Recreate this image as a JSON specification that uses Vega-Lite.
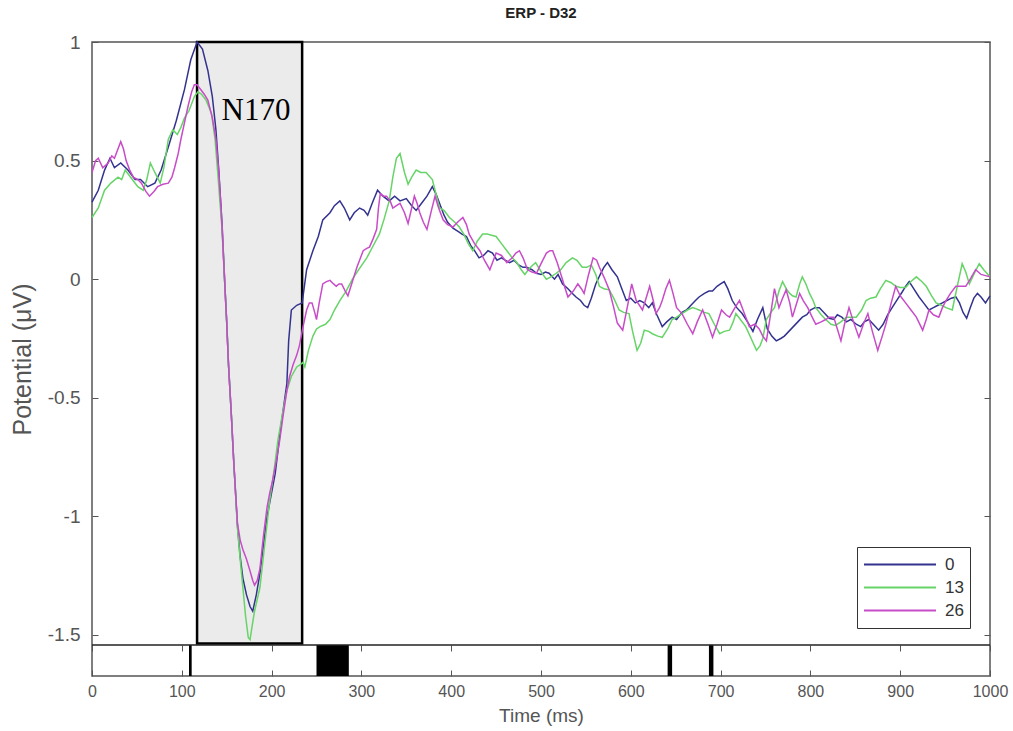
{
  "$schema": "https://vega.github.io/schema/vega-lite/v6.json",
  "background": "white",
  "autosize": {"type": "none"},
  "padding": {"left": 92, "top": 42, "right": 23, "bottom": 55},
  "width": 898,
  "height": 634,
  "title": {"text": "ERP - D32", "fontSize": 15, "fontWeight": "bold", "color": "#222", "anchor": "middle", "frame": "group", "offset": 12, "font": "Liberation Sans"},
  "config": {
    "font": "Liberation Sans",
    "view": {"stroke": "#555", "strokeWidth": 1.5},
    "axis": {"grid": false, "labelFont": "Liberation Sans", "titleFont": "Liberation Sans", "labelColor": "#555", "titleColor": "#555", "titleFontWeight": "normal", "tickColor": "#555", "domain": false, "labelFlush": false}
  },
  "datasets": {
    "box": [{"t0": 117, "t1": 234, "v0": 1.0, "v1": -1.536}],
    "lbl": [{"t": 182.6, "v": 0.671, "label": "N170"}],
    "sep": [{"t0": 0, "t1": 1000}],
    "sig": [{"start": 108, "end": 111}, {"start": 250, "end": 286}, {"start": 641, "end": 646}, {"start": 687, "end": 692}],
    "erp": [
{"s":"0","t":0,"v":0.325},{"s":"0","t":7,"v":0.375},{"s":"0","t":14,"v":0.46},{"s":"0","t":20,"v":0.51},{"s":"0","t":25,"v":0.47},{"s":"0","t":32,"v":0.49},{"s":"0","t":40,"v":0.46},{"s":"0","t":48,"v":0.42},{"s":"0","t":54,"v":0.42},{"s":"0","t":62,"v":0.39},{"s":"0","t":70,"v":0.405},{"s":"0","t":77,"v":0.46},{"s":"0","t":86,"v":0.57},{"s":"0","t":94,"v":0.67},{"s":"0","t":103,"v":0.8},{"s":"0","t":110,"v":0.925},{"s":"0","t":117,"v":1.0},{"s":"0","t":123,"v":0.97},{"s":"0","t":129,"v":0.88},{"s":"0","t":134,"v":0.77},{"s":"0","t":138,"v":0.63},{"s":"0","t":141,"v":0.47},{"s":"0","t":145,"v":0.22},{"s":"0","t":148,"v":-0.03},{"s":"0","t":150,"v":-0.18},{"s":"0","t":152,"v":-0.36},{"s":"0","t":155,"v":-0.56},{"s":"0","t":158,"v":-0.78},{"s":"0","t":162,"v":-1.04},{"s":"0","t":165,"v":-1.17},{"s":"0","t":168,"v":-1.26},{"s":"0","t":172,"v":-1.33},{"s":"0","t":176,"v":-1.38},{"s":"0","t":179,"v":-1.4},{"s":"0","t":183,"v":-1.33},{"s":"0","t":187,"v":-1.24},{"s":"0","t":195,"v":-1.0},{"s":"0","t":204,"v":-0.82},{"s":"0","t":210,"v":-0.63},{"s":"0","t":217,"v":-0.44},{"s":"0","t":219,"v":-0.26},{"s":"0","t":222,"v":-0.13},{"s":"0","t":228,"v":-0.11},{"s":"0","t":234,"v":-0.1},{"s":"0","t":239,"v":0.04},{"s":"0","t":246,"v":0.12},{"s":"0","t":252,"v":0.18},{"s":"0","t":257,"v":0.25},{"s":"0","t":265,"v":0.28},{"s":"0","t":270,"v":0.31},{"s":"0","t":276,"v":0.33},{"s":"0","t":281,"v":0.3},{"s":"0","t":287,"v":0.25},{"s":"0","t":292,"v":0.28},{"s":"0","t":298,"v":0.3},{"s":"0","t":303,"v":0.29},{"s":"0","t":307,"v":0.27},{"s":"0","t":312,"v":0.32},{"s":"0","t":318,"v":0.375},{"s":"0","t":324,"v":0.35},{"s":"0","t":331,"v":0.33},{"s":"0","t":337,"v":0.35},{"s":"0","t":343,"v":0.33},{"s":"0","t":350,"v":0.34},{"s":"0","t":356,"v":0.31},{"s":"0","t":361,"v":0.29},{"s":"0","t":367,"v":0.32},{"s":"0","t":373,"v":0.35},{"s":"0","t":379,"v":0.39},{"s":"0","t":383,"v":0.36},{"s":"0","t":387,"v":0.32},{"s":"0","t":392,"v":0.27},{"s":"0","t":396,"v":0.24},{"s":"0","t":402,"v":0.215},{"s":"0","t":408,"v":0.2},{"s":"0","t":412,"v":0.19},{"s":"0","t":417,"v":0.18},{"s":"0","t":422,"v":0.14},{"s":"0","t":426,"v":0.12},{"s":"0","t":431,"v":0.09},{"s":"0","t":436,"v":0.1},{"s":"0","t":441,"v":0.12},{"s":"0","t":446,"v":0.11},{"s":"0","t":451,"v":0.08},{"s":"0","t":456,"v":0.09},{"s":"0","t":460,"v":0.08},{"s":"0","t":465,"v":0.07},{"s":"0","t":470,"v":0.08},{"s":"0","t":475,"v":0.06},{"s":"0","t":480,"v":0.05},{"s":"0","t":484,"v":0.05},{"s":"0","t":490,"v":0.04},{"s":"0","t":495,"v":0.025},{"s":"0","t":500,"v":0.02},{"s":"0","t":505,"v":0.03},{"s":"0","t":509,"v":0.025},{"s":"0","t":515,"v":0.0},{"s":"0","t":519,"v":0.02},{"s":"0","t":524,"v":-0.02},{"s":"0","t":530,"v":-0.04},{"s":"0","t":535,"v":-0.06},{"s":"0","t":539,"v":-0.075},{"s":"0","t":544,"v":-0.09},{"s":"0","t":548,"v":-0.11},{"s":"0","t":552,"v":-0.12},{"s":"0","t":556,"v":-0.08},{"s":"0","t":561,"v":-0.02},{"s":"0","t":566,"v":0.02},{"s":"0","t":570,"v":0.05},{"s":"0","t":574,"v":0.07},{"s":"0","t":579,"v":0.04},{"s":"0","t":585,"v":0.01},{"s":"0","t":590,"v":-0.04},{"s":"0","t":595,"v":-0.09},{"s":"0","t":600,"v":-0.08},{"s":"0","t":605,"v":-0.1},{"s":"0","t":610,"v":-0.09},{"s":"0","t":615,"v":-0.1},{"s":"0","t":620,"v":-0.12},{"s":"0","t":624,"v":-0.1},{"s":"0","t":629,"v":-0.15},{"s":"0","t":635,"v":-0.2},{"s":"0","t":640,"v":-0.18},{"s":"0","t":646,"v":-0.16},{"s":"0","t":651,"v":-0.17},{"s":"0","t":657,"v":-0.14},{"s":"0","t":662,"v":-0.13},{"s":"0","t":667,"v":-0.11},{"s":"0","t":672,"v":-0.09},{"s":"0","t":676,"v":-0.075},{"s":"0","t":682,"v":-0.06},{"s":"0","t":687,"v":-0.05},{"s":"0","t":691,"v":-0.05},{"s":"0","t":696,"v":-0.03},{"s":"0","t":700,"v":-0.02},{"s":"0","t":704,"v":-0.01},{"s":"0","t":708,"v":-0.04},{"s":"0","t":713,"v":-0.09},{"s":"0","t":718,"v":-0.12},{"s":"0","t":724,"v":-0.145},{"s":"0","t":730,"v":-0.18},{"s":"0","t":736,"v":-0.22},{"s":"0","t":741,"v":-0.17},{"s":"0","t":747,"v":-0.12},{"s":"0","t":752,"v":-0.21},{"s":"0","t":757,"v":-0.24},{"s":"0","t":762,"v":-0.26},{"s":"0","t":767,"v":-0.25},{"s":"0","t":771,"v":-0.24},{"s":"0","t":776,"v":-0.22},{"s":"0","t":781,"v":-0.2},{"s":"0","t":786,"v":-0.18},{"s":"0","t":791,"v":-0.16},{"s":"0","t":796,"v":-0.15},{"s":"0","t":800,"v":-0.13},{"s":"0","t":805,"v":-0.12},{"s":"0","t":810,"v":-0.12},{"s":"0","t":815,"v":-0.14},{"s":"0","t":821,"v":-0.165},{"s":"0","t":826,"v":-0.17},{"s":"0","t":830,"v":-0.15},{"s":"0","t":835,"v":-0.16},{"s":"0","t":840,"v":-0.18},{"s":"0","t":845,"v":-0.17},{"s":"0","t":851,"v":-0.19},{"s":"0","t":856,"v":-0.2},{"s":"0","t":860,"v":-0.18},{"s":"0","t":865,"v":-0.17},{"s":"0","t":870,"v":-0.19},{"s":"0","t":876,"v":-0.215},{"s":"0","t":881,"v":-0.19},{"s":"0","t":886,"v":-0.15},{"s":"0","t":891,"v":-0.12},{"s":"0","t":896,"v":-0.09},{"s":"0","t":902,"v":-0.055},{"s":"0","t":906,"v":-0.03},{"s":"0","t":910,"v":-0.01},{"s":"0","t":915,"v":-0.04},{"s":"0","t":921,"v":-0.075},{"s":"0","t":926,"v":-0.1},{"s":"0","t":932,"v":-0.13},{"s":"0","t":937,"v":-0.12},{"s":"0","t":942,"v":-0.11},{"s":"0","t":947,"v":-0.1},{"s":"0","t":952,"v":-0.09},{"s":"0","t":957,"v":-0.08},{"s":"0","t":962,"v":-0.075},{"s":"0","t":966,"v":-0.1},{"s":"0","t":970,"v":-0.14},{"s":"0","t":974,"v":-0.165},{"s":"0","t":978,"v":-0.12},{"s":"0","t":982,"v":-0.08},{"s":"0","t":986,"v":-0.06},{"s":"0","t":990,"v":-0.075},{"s":"0","t":995,"v":-0.1},{"s":"0","t":1000,"v":-0.07},
{"s":"13","t":0,"v":0.26},{"s":"13","t":7,"v":0.3},{"s":"13","t":14,"v":0.375},{"s":"13","t":21,"v":0.405},{"s":"13","t":29,"v":0.43},{"s":"13","t":33,"v":0.42},{"s":"13","t":37,"v":0.46},{"s":"13","t":43,"v":0.43},{"s":"13","t":47,"v":0.41},{"s":"13","t":51,"v":0.39},{"s":"13","t":57,"v":0.375},{"s":"13","t":61,"v":0.42},{"s":"13","t":65,"v":0.49},{"s":"13","t":70,"v":0.45},{"s":"13","t":76,"v":0.405},{"s":"13","t":80,"v":0.47},{"s":"13","t":85,"v":0.59},{"s":"13","t":90,"v":0.63},{"s":"13","t":95,"v":0.61},{"s":"13","t":99,"v":0.64},{"s":"13","t":103,"v":0.68},{"s":"13","t":108,"v":0.71},{"s":"13","t":114,"v":0.77},{"s":"13","t":118,"v":0.79},{"s":"13","t":122,"v":0.78},{"s":"13","t":127,"v":0.755},{"s":"13","t":133,"v":0.7},{"s":"13","t":137,"v":0.59},{"s":"13","t":140,"v":0.45},{"s":"13","t":143,"v":0.3},{"s":"13","t":145,"v":0.2},{"s":"13","t":148,"v":-0.03},{"s":"13","t":150,"v":-0.18},{"s":"13","t":152,"v":-0.36},{"s":"13","t":155,"v":-0.56},{"s":"13","t":158,"v":-0.78},{"s":"13","t":162,"v":-1.05},{"s":"13","t":165,"v":-1.18},{"s":"13","t":168,"v":-1.3},{"s":"13","t":171,"v":-1.42},{"s":"13","t":174,"v":-1.51},{"s":"13","t":176,"v":-1.52},{"s":"13","t":178,"v":-1.47},{"s":"13","t":181,"v":-1.4},{"s":"13","t":184,"v":-1.35},{"s":"13","t":187,"v":-1.3},{"s":"13","t":192,"v":-1.13},{"s":"13","t":198,"v":-0.93},{"s":"13","t":203,"v":-0.8},{"s":"13","t":207,"v":-0.68},{"s":"13","t":212,"v":-0.57},{"s":"13","t":217,"v":-0.47},{"s":"13","t":222,"v":-0.41},{"s":"13","t":228,"v":-0.37},{"s":"13","t":232,"v":-0.36},{"s":"13","t":235,"v":-0.35},{"s":"13","t":237,"v":-0.37},{"s":"13","t":241,"v":-0.3},{"s":"13","t":246,"v":-0.24},{"s":"13","t":250,"v":-0.21},{"s":"13","t":254,"v":-0.2},{"s":"13","t":260,"v":-0.19},{"s":"13","t":265,"v":-0.17},{"s":"13","t":270,"v":-0.13},{"s":"13","t":276,"v":-0.09},{"s":"13","t":283,"v":-0.05},{"s":"13","t":290,"v":0.0},{"s":"13","t":297,"v":0.04},{"s":"13","t":306,"v":0.09},{"s":"13","t":313,"v":0.14},{"s":"13","t":320,"v":0.19},{"s":"13","t":325,"v":0.25},{"s":"13","t":331,"v":0.33},{"s":"13","t":335,"v":0.43},{"s":"13","t":339,"v":0.51},{"s":"13","t":343,"v":0.53},{"s":"13","t":348,"v":0.45},{"s":"13","t":352,"v":0.4},{"s":"13","t":356,"v":0.43},{"s":"13","t":361,"v":0.46},{"s":"13","t":366,"v":0.45},{"s":"13","t":372,"v":0.45},{"s":"13","t":379,"v":0.42},{"s":"13","t":383,"v":0.36},{"s":"13","t":387,"v":0.3},{"s":"13","t":392,"v":0.29},{"s":"13","t":398,"v":0.26},{"s":"13","t":404,"v":0.24},{"s":"13","t":409,"v":0.22},{"s":"13","t":414,"v":0.19},{"s":"13","t":419,"v":0.15},{"s":"13","t":424,"v":0.12},{"s":"13","t":429,"v":0.16},{"s":"13","t":435,"v":0.19},{"s":"13","t":440,"v":0.19},{"s":"13","t":445,"v":0.185},{"s":"13","t":450,"v":0.18},{"s":"13","t":456,"v":0.15},{"s":"13","t":462,"v":0.12},{"s":"13","t":468,"v":0.09},{"s":"13","t":473,"v":0.07},{"s":"13","t":478,"v":0.04},{"s":"13","t":482,"v":0.02},{"s":"13","t":487,"v":0.045},{"s":"13","t":491,"v":0.06},{"s":"13","t":494,"v":0.07},{"s":"13","t":498,"v":0.045},{"s":"13","t":502,"v":0.02},{"s":"13","t":506,"v":0.0},{"s":"13","t":511,"v":0.01},{"s":"13","t":517,"v":0.025},{"s":"13","t":522,"v":0.04},{"s":"13","t":528,"v":0.07},{"s":"13","t":535,"v":0.09},{"s":"13","t":540,"v":0.08},{"s":"13","t":546,"v":0.05},{"s":"13","t":551,"v":0.05},{"s":"13","t":556,"v":0.06},{"s":"13","t":561,"v":0.02},{"s":"13","t":565,"v":-0.03},{"s":"13","t":570,"v":-0.04},{"s":"13","t":576,"v":-0.045},{"s":"13","t":581,"v":-0.08},{"s":"13","t":587,"v":-0.13},{"s":"13","t":592,"v":-0.14},{"s":"13","t":598,"v":-0.145},{"s":"13","t":602,"v":-0.22},{"s":"13","t":607,"v":-0.3},{"s":"13","t":611,"v":-0.27},{"s":"13","t":615,"v":-0.215},{"s":"13","t":620,"v":-0.22},{"s":"13","t":624,"v":-0.23},{"s":"13","t":630,"v":-0.24},{"s":"13","t":635,"v":-0.245},{"s":"13","t":641,"v":-0.21},{"s":"13","t":646,"v":-0.17},{"s":"13","t":651,"v":-0.16},{"s":"13","t":657,"v":-0.145},{"s":"13","t":663,"v":-0.13},{"s":"13","t":669,"v":-0.12},{"s":"13","t":673,"v":-0.125},{"s":"13","t":676,"v":-0.13},{"s":"13","t":682,"v":-0.14},{"s":"13","t":687,"v":-0.145},{"s":"13","t":693,"v":-0.19},{"s":"13","t":699,"v":-0.23},{"s":"13","t":704,"v":-0.22},{"s":"13","t":710,"v":-0.215},{"s":"13","t":714,"v":-0.18},{"s":"13","t":717,"v":-0.145},{"s":"13","t":722,"v":-0.17},{"s":"13","t":728,"v":-0.2},{"s":"13","t":734,"v":-0.25},{"s":"13","t":740,"v":-0.3},{"s":"13","t":744,"v":-0.28},{"s":"13","t":747,"v":-0.25},{"s":"13","t":751,"v":-0.17},{"s":"13","t":756,"v":-0.14},{"s":"13","t":760,"v":-0.12},{"s":"13","t":765,"v":-0.05},{"s":"13","t":769,"v":-0.01},{"s":"13","t":773,"v":-0.04},{"s":"13","t":777,"v":-0.06},{"s":"13","t":780,"v":-0.07},{"s":"13","t":784,"v":-0.075},{"s":"13","t":788,"v":-0.02},{"s":"13","t":791,"v":0.01},{"s":"13","t":795,"v":-0.02},{"s":"13","t":799,"v":-0.06},{"s":"13","t":803,"v":-0.09},{"s":"13","t":806,"v":-0.12},{"s":"13","t":812,"v":-0.15},{"s":"13","t":817,"v":-0.17},{"s":"13","t":823,"v":-0.19},{"s":"13","t":828,"v":-0.195},{"s":"13","t":834,"v":-0.18},{"s":"13","t":840,"v":-0.16},{"s":"13","t":845,"v":-0.16},{"s":"13","t":851,"v":-0.16},{"s":"13","t":857,"v":-0.13},{"s":"13","t":862,"v":-0.09},{"s":"13","t":867,"v":-0.08},{"s":"13","t":873,"v":-0.075},{"s":"13","t":878,"v":-0.04},{"s":"13","t":884,"v":-0.005},{"s":"13","t":890,"v":-0.015},{"s":"13","t":895,"v":-0.03},{"s":"13","t":900,"v":-0.035},{"s":"13","t":906,"v":-0.035},{"s":"13","t":912,"v":-0.01},{"s":"13","t":918,"v":0.01},{"s":"13","t":924,"v":-0.01},{"s":"13","t":929,"v":-0.03},{"s":"13","t":935,"v":-0.07},{"s":"13","t":940,"v":-0.1},{"s":"13","t":946,"v":-0.11},{"s":"13","t":951,"v":-0.12},{"s":"13","t":958,"v":-0.13},{"s":"13","t":963,"v":-0.04},{"s":"13","t":969,"v":0.065},{"s":"13","t":973,"v":0.03},{"s":"13","t":977,"v":-0.02},{"s":"13","t":982,"v":0.02},{"s":"13","t":988,"v":0.065},{"s":"13","t":993,"v":0.04},{"s":"13","t":1000,"v":0.01},
{"s":"26","t":0,"v":0.45},{"s":"26","t":4,"v":0.5},{"s":"26","t":7,"v":0.51},{"s":"26","t":12,"v":0.47},{"s":"26","t":18,"v":0.49},{"s":"26","t":22,"v":0.52},{"s":"26","t":25,"v":0.51},{"s":"26","t":29,"v":0.55},{"s":"26","t":32,"v":0.58},{"s":"26","t":35,"v":0.55},{"s":"26","t":38,"v":0.5},{"s":"26","t":42,"v":0.46},{"s":"26","t":46,"v":0.43},{"s":"26","t":51,"v":0.42},{"s":"26","t":55,"v":0.405},{"s":"26","t":60,"v":0.37},{"s":"26","t":64,"v":0.35},{"s":"26","t":69,"v":0.37},{"s":"26","t":73,"v":0.39},{"s":"26","t":79,"v":0.4},{"s":"26","t":85,"v":0.405},{"s":"26","t":89,"v":0.43},{"s":"26","t":92,"v":0.47},{"s":"26","t":96,"v":0.53},{"s":"26","t":99,"v":0.59},{"s":"26","t":103,"v":0.66},{"s":"26","t":107,"v":0.73},{"s":"26","t":111,"v":0.79},{"s":"26","t":114,"v":0.82},{"s":"26","t":117,"v":0.82},{"s":"26","t":121,"v":0.8},{"s":"26","t":125,"v":0.78},{"s":"26","t":129,"v":0.755},{"s":"26","t":134,"v":0.68},{"s":"26","t":138,"v":0.59},{"s":"26","t":141,"v":0.46},{"s":"26","t":144,"v":0.28},{"s":"26","t":148,"v":-0.03},{"s":"26","t":150,"v":-0.18},{"s":"26","t":152,"v":-0.36},{"s":"26","t":155,"v":-0.56},{"s":"26","t":158,"v":-0.78},{"s":"26","t":162,"v":-1.03},{"s":"26","t":165,"v":-1.1},{"s":"26","t":168,"v":-1.14},{"s":"26","t":172,"v":-1.18},{"s":"26","t":176,"v":-1.23},{"s":"26","t":179,"v":-1.27},{"s":"26","t":181,"v":-1.29},{"s":"26","t":184,"v":-1.27},{"s":"26","t":187,"v":-1.22},{"s":"26","t":191,"v":-1.08},{"s":"26","t":195,"v":-0.96},{"s":"26","t":198,"v":-0.9},{"s":"26","t":201,"v":-0.85},{"s":"26","t":205,"v":-0.77},{"s":"26","t":209,"v":-0.68},{"s":"26","t":213,"v":-0.57},{"s":"26","t":217,"v":-0.47},{"s":"26","t":220,"v":-0.41},{"s":"26","t":224,"v":-0.36},{"s":"26","t":228,"v":-0.32},{"s":"26","t":231,"v":-0.28},{"s":"26","t":235,"v":-0.2},{"s":"26","t":239,"v":-0.13},{"s":"26","t":242,"v":-0.1},{"s":"26","t":245,"v":-0.1},{"s":"26","t":248,"v":-0.14},{"s":"26","t":250,"v":-0.17},{"s":"26","t":253,"v":-0.1},{"s":"26","t":257,"v":-0.02},{"s":"26","t":261,"v":-0.01},{"s":"26","t":265,"v":-0.005},{"s":"26","t":269,"v":-0.02},{"s":"26","t":272,"v":-0.03},{"s":"26","t":275,"v":-0.02},{"s":"26","t":278,"v":-0.02},{"s":"26","t":282,"v":-0.05},{"s":"26","t":285,"v":-0.07},{"s":"26","t":290,"v":-0.01},{"s":"26","t":295,"v":0.05},{"s":"26","t":299,"v":0.09},{"s":"26","t":302,"v":0.12},{"s":"26","t":306,"v":0.13},{"s":"26","t":309,"v":0.135},{"s":"26","t":313,"v":0.17},{"s":"26","t":317,"v":0.21},{"s":"26","t":319,"v":0.3},{"s":"26","t":321,"v":0.36},{"s":"26","t":325,"v":0.35},{"s":"26","t":328,"v":0.35},{"s":"26","t":332,"v":0.33},{"s":"26","t":335,"v":0.3},{"s":"26","t":339,"v":0.31},{"s":"26","t":343,"v":0.32},{"s":"26","t":348,"v":0.28},{"s":"26","t":352,"v":0.235},{"s":"26","t":356,"v":0.3},{"s":"26","t":359,"v":0.35},{"s":"26","t":362,"v":0.32},{"s":"26","t":365,"v":0.28},{"s":"26","t":369,"v":0.24},{"s":"26","t":373,"v":0.21},{"s":"26","t":378,"v":0.29},{"s":"26","t":382,"v":0.35},{"s":"26","t":386,"v":0.3},{"s":"26","t":391,"v":0.25},{"s":"26","t":396,"v":0.23},{"s":"26","t":402,"v":0.22},{"s":"26","t":407,"v":0.24},{"s":"26","t":413,"v":0.26},{"s":"26","t":417,"v":0.23},{"s":"26","t":420,"v":0.19},{"s":"26","t":426,"v":0.15},{"s":"26","t":432,"v":0.12},{"s":"26","t":437,"v":0.08},{"s":"26","t":443,"v":0.04},{"s":"26","t":447,"v":0.08},{"s":"26","t":450,"v":0.11},{"s":"26","t":456,"v":0.1},{"s":"26","t":462,"v":0.07},{"s":"26","t":468,"v":0.09},{"s":"26","t":472,"v":0.11},{"s":"26","t":476,"v":0.12},{"s":"26","t":480,"v":0.09},{"s":"26","t":485,"v":0.04},{"s":"26","t":490,"v":0.03},{"s":"26","t":495,"v":0.025},{"s":"26","t":498,"v":0.05},{"s":"26","t":502,"v":0.08},{"s":"26","t":506,"v":0.11},{"s":"26","t":510,"v":0.12},{"s":"26","t":513,"v":0.12},{"s":"26","t":518,"v":0.07},{"s":"26","t":523,"v":0.01},{"s":"26","t":527,"v":-0.04},{"s":"26","t":530,"v":-0.075},{"s":"26","t":536,"v":-0.05},{"s":"26","t":541,"v":-0.02},{"s":"26","t":545,"v":-0.04},{"s":"26","t":548,"v":-0.06},{"s":"26","t":553,"v":0.02},{"s":"26","t":558,"v":0.09},{"s":"26","t":562,"v":0.08},{"s":"26","t":565,"v":0.05},{"s":"26","t":570,"v":0.01},{"s":"26","t":576,"v":-0.045},{"s":"26","t":581,"v":-0.12},{"s":"26","t":585,"v":-0.185},{"s":"26","t":591,"v":-0.215},{"s":"26","t":596,"v":-0.12},{"s":"26","t":601,"v":-0.02},{"s":"26","t":606,"v":-0.09},{"s":"26","t":613,"v":-0.13},{"s":"26","t":617,"v":-0.08},{"s":"26","t":621,"v":-0.03},{"s":"26","t":625,"v":-0.09},{"s":"26","t":628,"v":-0.145},{"s":"26","t":632,"v":-0.12},{"s":"26","t":635,"v":-0.09},{"s":"26","t":639,"v":-0.04},{"s":"26","t":643,"v":-0.005},{"s":"26","t":647,"v":-0.06},{"s":"26","t":651,"v":-0.12},{"s":"26","t":657,"v":-0.145},{"s":"26","t":663,"v":-0.19},{"s":"26","t":669,"v":-0.23},{"s":"26","t":674,"v":-0.18},{"s":"26","t":680,"v":-0.13},{"s":"26","t":686,"v":-0.19},{"s":"26","t":691,"v":-0.245},{"s":"26","t":696,"v":-0.19},{"s":"26","t":701,"v":-0.13},{"s":"26","t":706,"v":-0.15},{"s":"26","t":710,"v":-0.16},{"s":"26","t":716,"v":-0.12},{"s":"26","t":721,"v":-0.09},{"s":"26","t":727,"v":-0.15},{"s":"26","t":732,"v":-0.2},{"s":"26","t":738,"v":-0.19},{"s":"26","t":743,"v":-0.21},{"s":"26","t":747,"v":-0.24},{"s":"26","t":751,"v":-0.26},{"s":"26","t":756,"v":-0.14},{"s":"26","t":760,"v":-0.04},{"s":"26","t":765,"v":-0.12},{"s":"26","t":769,"v":-0.08},{"s":"26","t":773,"v":-0.045},{"s":"26","t":777,"v":-0.1},{"s":"26","t":780,"v":-0.16},{"s":"26","t":784,"v":-0.11},{"s":"26","t":788,"v":-0.06},{"s":"26","t":792,"v":-0.09},{"s":"26","t":797,"v":-0.12},{"s":"26","t":802,"v":-0.16},{"s":"26","t":806,"v":-0.19},{"s":"26","t":812,"v":-0.18},{"s":"26","t":817,"v":-0.17},{"s":"26","t":821,"v":-0.16},{"s":"26","t":826,"v":-0.16},{"s":"26","t":830,"v":-0.21},{"s":"26","t":834,"v":-0.26},{"s":"26","t":838,"v":-0.19},{"s":"26","t":843,"v":-0.12},{"s":"26","t":848,"v":-0.18},{"s":"26","t":854,"v":-0.245},{"s":"26","t":859,"v":-0.19},{"s":"26","t":864,"v":-0.145},{"s":"26","t":869,"v":-0.22},{"s":"26","t":875,"v":-0.3},{"s":"26","t":880,"v":-0.24},{"s":"26","t":884,"v":-0.19},{"s":"26","t":890,"v":-0.1},{"s":"26","t":895,"v":-0.03},{"s":"26","t":900,"v":-0.07},{"s":"26","t":906,"v":-0.1},{"s":"26","t":912,"v":-0.13},{"s":"26","t":918,"v":-0.16},{"s":"26","t":925,"v":-0.215},{"s":"26","t":929,"v":-0.17},{"s":"26","t":932,"v":-0.13},{"s":"26","t":937,"v":-0.15},{"s":"26","t":943,"v":-0.16},{"s":"26","t":947,"v":-0.12},{"s":"26","t":951,"v":-0.09},{"s":"26","t":956,"v":-0.06},{"s":"26","t":962,"v":-0.03},{"s":"26","t":967,"v":-0.03},{"s":"26","t":973,"v":-0.03},{"s":"26","t":978,"v":0.0},{"s":"26","t":984,"v":0.04},{"s":"26","t":990,"v":0.02},{"s":"26","t":995,"v":0.015},{"s":"26","t":1000,"v":0.01}
    ]
  },
  "resolve": {"axis": {"x": "independent", "y": "independent"}},
  "layer": [
    {
      "data": {"name": "box"},
      "mark": {"type": "rect", "fill": "#ebebeb", "stroke": "#000", "strokeWidth": 2.5},
      "encoding": {
        "x": {"field": "t0", "type": "quantitative", "scale": {"domain": [0, 1000], "nice": false},
              "axis": {"orient": "bottom", "values": [0,100,200,300,400,500,600,700,800,900,1000], "labelExpr": "'' + datum.value", "tickSize": -6, "labelPadding": 13, "labelFontSize": 16, "title": "Time (ms)", "titleFontSize": 19, "titlePadding": 7}},
        "x2": {"field": "t1"},
        "y": {"field": "v0", "type": "quantitative", "scale": {"domain": [-1.673, 1.0], "nice": false, "zero": false},
              "axis": {"orient": "left", "values": [-1.5, -1, -0.5, 0, 0.5, 1], "labelExpr": "'' + datum.value", "tickSize": -6, "labelPadding": 18, "labelFontSize": 19, "title": "Potential (μV)", "titleFontSize": 25, "titlePadding": 12}},
        "y2": {"field": "v1"}
      }
    },
    {
      "data": {"name": "sig"},
      "mark": {"type": "rect", "color": "#000"},
      "encoding": {
        "x": {"field": "start", "type": "quantitative",
              "axis": {"orient": "top", "offset": -603, "values": [0,100,200,300,400,500,600,700,800,900,1000], "tickSize": -6, "labels": false, "title": null}},
        "x2": {"field": "end"},
        "y": {"datum": -1.542, "type": "quantitative", "axis": null},
        "y2": {"datum": -1.673}
      }
    },
    {
      "data": {"name": "sep"},
      "mark": {"type": "rule", "color": "#222", "strokeWidth": 1.5},
      "encoding": {
        "x": {"field": "t0", "type": "quantitative", "axis": null},
        "x2": {"field": "t1"},
        "y": {"datum": -1.542, "type": "quantitative", "axis": null}
      }
    },
    {
      "data": {"name": "erp"},
      "mark": {"type": "line", "strokeWidth": 1.5},
      "encoding": {
        "x": {"field": "t", "type": "quantitative", "axis": null},
        "y": {"field": "v", "type": "quantitative", "axis": {"orient": "right", "values": [-1.5, -1, -0.5, 0, 0.5, 1], "labels": false, "tickSize": -6, "title": null}},
        "color": {"field": "s", "type": "nominal", "scale": {"domain": ["0", "13", "26"], "range": ["#33338f", "#66d466", "#c84cc8"]},
          "legend": {"title": null, "orient": "none", "legendX": 765, "legendY": 505, "symbolType": "stroke", "symbolSize": 5184, "symbolStrokeWidth": 2, "labelFontSize": 17, "labelColor": "#333", "labelFont": "Liberation Sans", "fillColor": "white", "strokeColor": "#333", "padding": 6, "clipHeight": 23, "rowPadding": 0, "labelOffset": 8}}
      }
    },
    {
      "data": {"name": "lbl"},
      "mark": {"type": "text", "font": "Liberation Serif", "fontSize": 31, "baseline": "alphabetic", "align": "center", "color": "#000"},
      "encoding": {
        "x": {"field": "t", "type": "quantitative", "axis": null},
        "y": {"field": "v", "type": "quantitative", "axis": null},
        "text": {"field": "label"}
      }
    }
  ]
}
